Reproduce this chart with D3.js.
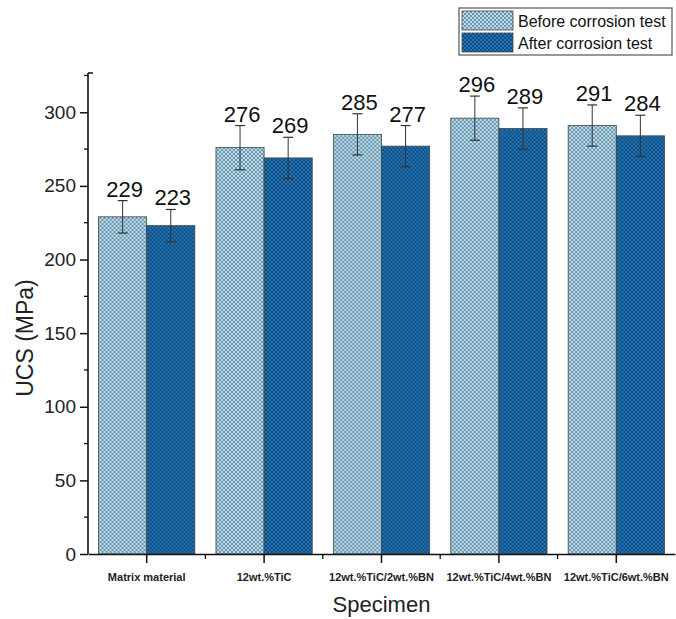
<!DOCTYPE html>
<html>
<head>
<meta charset="utf-8">
<script src="https://cdn.jsdelivr.net/npm/d3@7/dist/d3.min.js"></script>
<style>
  html, body { margin: 0; padding: 0; background: #fff; }
  svg { display: block; font-family: "Liberation Sans", Arial, sans-serif; }
</style>
</head>
<body>
<svg id="chart" width="676" height="619"></svg>
<script>
// Specimens and ultimate compressive strength (MPa)
const categories = ["Matrix material", "12wt.%TiC", "12wt.%TiC/2wt.%BN", "12wt.%TiC/4wt.%BN", "12wt.%TiC/6wt.%BN"];
const seriesNames = ["Before corrosion test", "After corrosion test"];
const beforeValues = [229, 276, 285, 296, 291];
const afterValues = [223, 269, 277, 289, 284];
const beforeErrors = [11, 15, 14, 15, 14];
const afterErrors = [11, 14, 14, 14, 14];
const yTicks = [0, 50, 100, 150, 200, 250, 300];
const yMinorTicks = [25, 75, 125, 175, 225, 275, 325];

const fills = ["#b3ddf2", "#1f74ba"];
const hatchInk = ["#455a68", "#0b2d4c"];

const svg = d3.select("#chart");
const margin = { left: 88, right: 1, top: 74, bottom: 65 };
const W = 676, H = 619;

const x = d3.scaleBand().domain(categories).range([margin.left, W - margin.right]).paddingInner(0.18).paddingOuter(0.09);
const xs = d3.scaleBand().domain([0, 1]).range([0, x.bandwidth()]);
const y = d3.scaleLinear().domain([0, 326]).range([H - margin.bottom, margin.top]);

// Cross-hatch fills for the bars
const defs = svg.append("defs");
fills.forEach((c, i) => {
  const p = defs.append("pattern")
    .attr("id", "hatch" + i)
    .attr("patternUnits", "userSpaceOnUse")
    .attr("width", 4).attr("height", 4);
  p.append("rect").attr("width", 4).attr("height", 4).attr("fill", c);
  p.append("path").attr("d", "M0,0 L4,4 M4,0 L0,4")
    .attr("stroke", hatchInk[i])
    .attr("stroke-width", 0.7)
    .attr("stroke-opacity", 0.8);
});

const rows = categories.map((c, i) => ({
  cat: c,
  vals: [
    { s: 0, v: beforeValues[i], e: beforeErrors[i] },
    { s: 1, v: afterValues[i], e: afterErrors[i] }
  ]
}));

const groups = svg.append("g").selectAll("g").data(rows).join("g")
  .attr("transform", d => `translate(${x(d.cat)},0)`);

const bars = groups.selectAll("g").data(d => d.vals).join("g");

bars.append("rect")
  .attr("x", d => xs(d.s))
  .attr("width", xs.bandwidth())
  .attr("y", d => y(d.v))
  .attr("height", d => y(0) - y(d.v))
  .attr("fill", d => `url(#hatch${d.s})`)
  .attr("stroke", "#444")
  .attr("stroke-width", 0.8);

// Error bars
const cx = d => xs(d.s) + xs.bandwidth() / 2;
bars.append("line")
  .attr("x1", cx).attr("x2", cx)
  .attr("y1", d => y(d.v + d.e)).attr("y2", d => y(d.v - d.e))
  .attr("stroke", "#333").attr("stroke-width", 1);
bars.append("line")
  .attr("x1", d => cx(d) - 5).attr("x2", d => cx(d) + 5)
  .attr("y1", d => y(d.v + d.e)).attr("y2", d => y(d.v + d.e))
  .attr("stroke", "#333").attr("stroke-width", 1.2);
bars.append("line")
  .attr("x1", d => cx(d) - 5).attr("x2", d => cx(d) + 5)
  .attr("y1", d => y(d.v - d.e)).attr("y2", d => y(d.v - d.e))
  .attr("stroke", "#333").attr("stroke-width", 1.2);

// Value labels
bars.append("text")
  .attr("x", d => cx(d) + 2)
  .attr("y", d => y(d.v + d.e) - 4)
  .attr("text-anchor", "middle")
  .attr("font-size", 22)
  .attr("fill", "#111")
  .text(d => d.v);

// Y axis
const yAxis = svg.append("g")
  .attr("transform", `translate(${margin.left},0)`)
  .call(d3.axisLeft(y).tickValues(yTicks).tickSize(8).tickPadding(4).tickSizeOuter(0));
yAxis.select(".domain").attr("d", `M0,${y(326) - 1}H5V${y(326) - 1}M0,${y(326) - 1}V${y(0)}`)
  .attr("stroke", "#111").attr("stroke-width", 1.6);
yAxis.selectAll(".tick line").attr("stroke", "#111").attr("stroke-width", 1.5);
yAxis.selectAll(".tick text").attr("font-size", 19).attr("fill", "#222");
svg.append("g").selectAll("line").data(yMinorTicks).join("line")
  .attr("x1", margin.left - 4).attr("x2", margin.left)
  .attr("y1", d => y(d)).attr("y2", d => y(d))
  .attr("stroke", "#111").attr("stroke-width", 1.3);

// X axis
const xAxis = svg.append("g")
  .attr("transform", `translate(0,${y(0)})`)
  .call(d3.axisBottom(x).tickSize(9).tickPadding(10).tickSizeOuter(0));
xAxis.select(".domain").attr("stroke", "#111").attr("stroke-width", 1.6);
xAxis.selectAll(".tick line").attr("stroke", "#111").attr("stroke-width", 1.5);
xAxis.selectAll(".tick text")
  .attr("font-weight", "bold")
  .attr("font-size", 11)
  .attr("fill", "#222");
// minor ticks between specimens
const step = x.step();
svg.append("g").selectAll("line").data(categories.slice(1)).join("line")
  .attr("x1", d => x(d) + x.bandwidth() / 2 - step / 2)
  .attr("x2", d => x(d) + x.bandwidth() / 2 - step / 2)
  .attr("y1", y(0)).attr("y2", y(0) + 5)
  .attr("stroke", "#111").attr("stroke-width", 1.3);

// Axis titles
svg.append("text")
  .attr("transform", `translate(33,${(y(0) + y(326)) / 2 + 24}) rotate(-90)`)
  .attr("text-anchor", "middle")
  .attr("font-size", 23)
  .attr("fill", "#222")
  .text("UCS (MPa)");
svg.append("text")
  .attr("x", (margin.left + W - margin.right) / 2)
  .attr("y", 612)
  .attr("text-anchor", "middle")
  .attr("font-size", 22)
  .attr("fill", "#222")
  .text("Specimen");

// Legend
const lg = svg.append("g").attr("transform", "translate(459,8)");
lg.append("rect").attr("width", 213).attr("height", 47)
  .attr("fill", "#fff").attr("stroke", "#555").attr("stroke-width", 1.2);
seriesNames.forEach((n, i) => {
  lg.append("rect")
    .attr("x", 3).attr("y", 3 + i * 22).attr("width", 51).attr("height", 19)
    .attr("fill", `url(#hatch${i})`).attr("stroke", "#444").attr("stroke-width", 0.8);
  lg.append("text")
    .attr("x", 59).attr("y", 19 + i * 22)
    .attr("font-size", 16).attr("fill", "#111")
    .text(n);
});
</script>
</body>
</html>
